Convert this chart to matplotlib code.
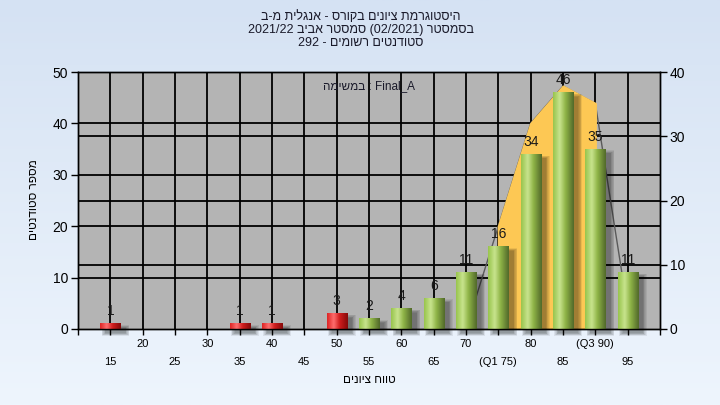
import numpy as np
import matplotlib
matplotlib.use('Agg')
import matplotlib.pyplot as plt
from matplotlib.colors import LinearSegmentedColormap
from matplotlib.patches import Rectangle

plt.rcParams['font.family'] = ['Liberation Sans', 'DejaVu Sans']

# ---------------- data ----------------
bins = [15, 35, 40, 50, 55, 60, 65, 70, 75, 80, 85, 90, 95]
counts = [1, 1, 1, 3, 2, 4, 6, 11, 16, 34, 46, 35, 11]
pass_grade = 55

# series on the right axis (0-40)
area_x = [75, 80, 85, 90]
area_y = [16, 32, 37.8, 35.1]
line_x = [70, 75, 80, 85, 90, 95]
line_y = [0, 16, 32, 37.8, 35.1, 3]

xtick_vals = list(range(10, 101, 5))
xtick_text = {15: '15', 20: '20', 25: '25', 30: '30', 35: '35', 40: '40', 45: '45',
              50: '50', 55: '55', 60: '60', 65: '65', 70: '70', 75: '(Q1 75)',
              80: '80', 85: '85', 90: '(Q3 90)', 95: '95'}
left_ticks = [0, 10, 20, 30, 40, 50]
right_ticks = [0, 10, 20, 30, 40]

title_lines = ['היסטוגרמת ציונים בקורס - אנגלית מ-ב',
               'בסמסטר (02/2021) סמסטר אביב 2021/22',
               'סטודנטים רשומים - 292']
task_text = 'Final_A : במשימה'
xlabel = 'טווח ציונים'
ylabel = 'מספר סטודנטים'


def is_heb(c):
    return '\u0590' <= c <= '\u05FF'


def vis(s):
    """Simple visual reordering for right-to-left lines."""
    words = s.split(' ')
    out = []
    for w in reversed(words):
        if any(is_heb(c) for c in w):
            out.append(w[::-1])
        else:
            out.append(w)
    return ' '.join(out)


# ---------------- figure ----------------
fig = plt.figure(figsize=(7.2, 4.05), dpi=100)

bg = fig.add_axes([0, 0, 1, 1], zorder=-10)
grad = np.linspace(0, 1, 256)[:, None]
bg_cmap = LinearSegmentedColormap.from_list('bg', ['#d5e2f3', '#eef5fd'])
bg.imshow(grad, aspect='auto', cmap=bg_cmap, extent=(0, 1, 0, 1))
bg.set_axis_off()

ax = fig.add_axes([78 / 720, 76 / 405, 582 / 720, 257 / 405])
ax.set_facecolor('#b4b4b4')
ax2 = ax.twinx()

ax.set_xlim(10, 100)
ax.set_ylim(0, 50)
ax2.set_ylim(0, 40)

# gridlines
for v in range(15, 100, 5):
    ax.axvline(v, color='black', lw=1.3, zorder=1)
for v in left_ticks[1:-1]:
    ax.axhline(v, color='black', lw=1.3, zorder=1)
for v in right_ticks[1:-1]:
    ax.plot([10, 100], [v, v], color='black', lw=1.3, zorder=1,
            transform=ax2.transData)

# line and area (right axis)
ax.plot(line_x, line_y, color='#5a5a5a', lw=1.0, zorder=1.5,
        transform=ax2.transData)
ax.fill_between(area_x, area_y, 0, facecolor='#fdc854', edgecolor='#fdc854',
                lw=1.6, zorder=2, transform=ax2.transData)

# bars
green = LinearSegmentedColormap.from_list(
    'g', [(0, '#98c44c'), (0.32, '#c8e48e'), (0.6, '#8fb447'), (1, '#51692a')])
red = LinearSegmentedColormap.from_list(
    'r', [(0, '#dc2424'), (0.32, '#ff6e6e'), (0.6, '#d01e1e'), (1, '#860a0a')])
bw = 3.1
hgrad = np.linspace(0, 1, 64)[None, :]
for x, h in zip(bins, counts):
    # soft shadow
    for k in range(6):
        grow = 0.12 * k
        sh = Rectangle((x - bw / 2 + 0.8 - grow, -0.8 - grow * 0.9),
                       bw + grow * 2, h + grow * 1.8,
                       facecolor='black', edgecolor='none', alpha=0.07,
                       zorder=2.5, clip_on=False)
        ax.add_patch(sh)
    cmap = red if x < pass_grade else green
    ax.imshow(hgrad, cmap=cmap, aspect='auto', interpolation='bicubic',
              extent=(x - bw / 2, x + bw / 2, 0, h), zorder=3)
    ax.annotate(str(h), (x, h), xytext=(0, 4), textcoords='offset points',
                ha='center', va='bottom', fontsize=10, color='#1a1a1a',
                zorder=4)

ax.set_xlim(10, 100)
ax.set_ylim(0, 50)

# ticks
ax.set_yticks(left_ticks)
ax.set_yticklabels([str(v) for v in left_ticks], fontsize=10)
ax2.set_yticks(right_ticks)
ax2.set_yticklabels([str(v) for v in right_ticks], fontsize=10)
ax.set_xticks(xtick_vals)
labs = []
for v in xtick_vals:
    t = xtick_text.get(v, '')
    if v % 10 == 5 and t:
        t = '\n' + t
    labs.append(t)
ax.set_xticklabels(labs, fontsize=8)
for lbl in ax.get_xticklabels():
    lbl.set_linespacing(2.0)
ax.tick_params(axis='x', length=4, width=1, pad=3, direction='out')
ax.tick_params(axis='y', length=5, width=1, pad=2, direction='out')
ax2.tick_params(axis='y', length=5, width=1, pad=2, direction='out')

for a in (ax, ax2):
    for s in a.spines.values():
        s.set_color('black')
        s.set_linewidth(1)

# texts
for i, line in enumerate(title_lines):
    fig.text(361 / 720, 1 - (17 + 13 * i) / 405, vis(line), ha='center',
             va='center', fontsize=9, color='#1a1a2a')
ax.text(0.5, 0.945, vis(task_text), transform=ax.transAxes, ha='center',
        va='center', fontsize=8.5, color='#1a1a2a', zorder=5)
fig.text(369 / 720, 1 - 380 / 405, vis(xlabel), ha='center', va='center',
         fontsize=8.5)
fig.text(34 / 720, 1 - 200 / 405, vis(ylabel), ha='center', va='center',
         fontsize=8.5, rotation=90)

fig.savefig('out.png', dpi=100)
